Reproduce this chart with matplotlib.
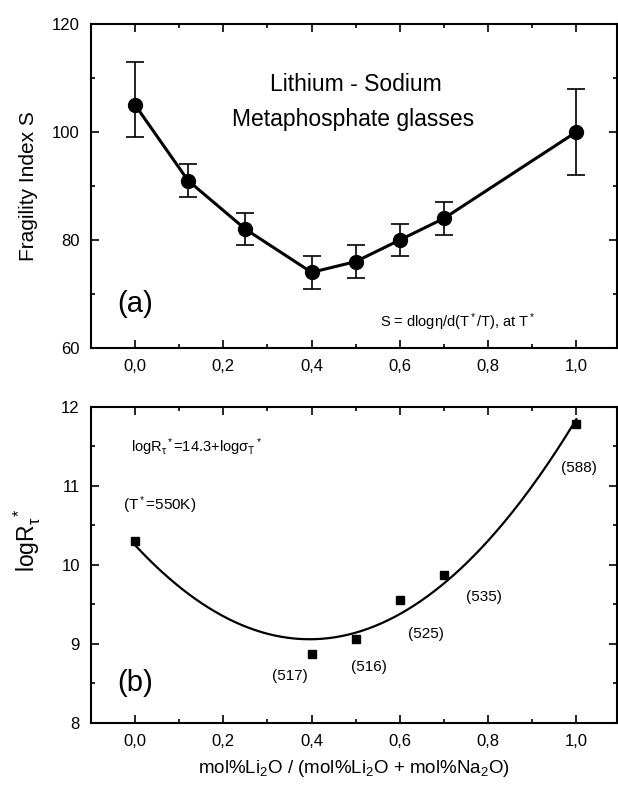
import numpy as np
import matplotlib
matplotlib.use("Agg")
import matplotlib.pyplot as plt
from matplotlib.ticker import MultipleLocator

plt.rcParams["font.family"] = ["Liberation Sans", "DejaVu Sans"]
plt.rcParams["mathtext.fontset"] = "custom"
plt.rcParams["mathtext.rm"] = "Liberation Sans"
plt.rcParams["mathtext.it"] = "Liberation Sans"
plt.rcParams["mathtext.bf"] = "Liberation Sans:bold"

# (a) fragility index
frac_a = [0.0, 0.12, 0.25, 0.4, 0.5, 0.6, 0.7, 1.0]
fragility = [105, 91, 82, 74, 76, 80, 84, 100]
err_low = [6, 3, 3, 3, 3, 3, 3, 8]
err_high = [8, 3, 3, 3, 3, 3, 3, 8]

# (b) logR* and T* labels
frac_b = [0.0, 0.4, 0.5, 0.6, 0.7, 1.0]
log_r = [10.3, 8.875, 9.06, 9.56, 9.87, 11.78]
t_star = ["", "(517)", "(516)", "(525)", "(535)", "(588)"]

x_ticks = [0.0, 0.2, 0.4, 0.6, 0.8, 1.0]
x_tick_labels = ["0,0", "0,2", "0,4", "0,6", "0,8", "1,0"]

fig = plt.figure(figsize=(6.18, 7.86), dpi=100)
ax1 = fig.add_axes([0.1472, 0.5573, 0.8511, 0.4122])
ax2 = fig.add_axes([0.1472, 0.0802, 0.8511, 0.4020])


def style_axes(ax):
    ax.set_xlim(-0.1, 1.092)
    ax.set_xticks(x_ticks)
    ax.set_xticklabels(x_tick_labels)
    ax.xaxis.set_minor_locator(MultipleLocator(0.1))
    ax.tick_params(which="both", direction="in", top=True, right=True,
                   width=1.2, labelsize=12, pad=8)
    ax.tick_params(which="major", length=6)
    ax.tick_params(which="minor", length=3)
    for s in ax.spines.values():
        s.set_linewidth(1.5)


# panel (a)
ax1.errorbar(frac_a, fragility, yerr=[err_low, err_high], fmt="o-",
             color="black", markersize=10, linewidth=2.2,
             elinewidth=1.2, capsize=6.5, capthick=1.2)
style_axes(ax1)
ax1.set_ylim(60, 120)
ax1.yaxis.set_major_locator(MultipleLocator(20))
ax1.yaxis.set_minor_locator(MultipleLocator(10))
ax1.set_ylabel("Fragility Index S", fontsize=15)
ax1.yaxis.set_label_coords(-0.10, 0.5)
ax1.text(0.5, 108.8, "Lithium - Sodium", ha="center", va="center", fontsize=16.5)
ax1.text(0.494, 102.4, "Metaphosphate glasses", ha="center", va="center", fontsize=16.5)
ax1.text(0.0, 68.2, "(a)", ha="center", va="center", fontsize=21)
ax1.text(0.73, 64.8, "S = dlog\u03b7/d(T$^*$/T), at T$^*$",
         ha="center", va="center", fontsize=10.5)

# panel (b)
coef = np.polyfit(frac_b, log_r, 2)
xs = np.linspace(0, 1, 200)
ax2.plot(xs, np.polyval(coef, xs), color="black", linewidth=1.6)
ax2.plot(frac_b, log_r, "s", color="black", markersize=5.5)
style_axes(ax2)
ax2.set_ylim(8, 12)
ax2.yaxis.set_major_locator(MultipleLocator(1))
ax2.yaxis.set_minor_locator(MultipleLocator(0.5))
ax2.set_ylabel(r"log$R_{\tau}^{\ *}$", fontsize=16.5)
ax2.yaxis.set_label_coords(-0.092, 0.58)
ax2.set_xlabel("mol%Li$_2$O / (mol%Li$_2$O + mol%Na$_2$O)", fontsize=13.5)
ax2.xaxis.set_label_coords(0.5, -0.112)

label_pos = [None, (0.35, 8.60), (0.53, 8.71), (0.66, 9.13), (0.79, 9.59), (1.005, 11.23)]
for lab, pos in zip(t_star, label_pos):
    if pos is not None:
        ax2.text(pos[0], pos[1], lab, ha="center", va="center", fontsize=11)
ax2.text(0.055, 10.76, "(T$^*$=550K)", ha="center", va="center", fontsize=11)
ax2.text(-0.009, 11.49, r"log$R_{\tau}$$^*$=14.3+log$\sigma_{T}$$^*$",
         ha="left", va="center", fontsize=10.5)
ax2.text(0.0, 8.5, "(b)", ha="center", va="center", fontsize=21)

fig.savefig("out.png", dpi=100)
